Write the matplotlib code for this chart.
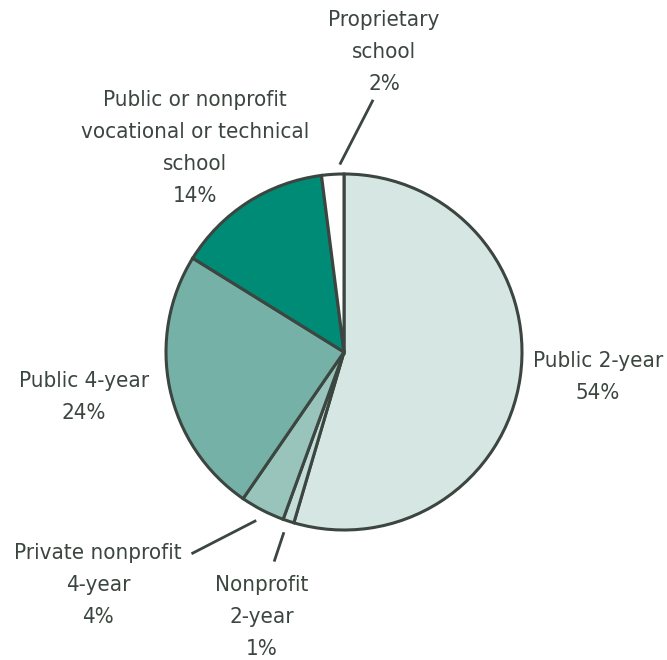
import numpy as np
import matplotlib.pyplot as plt

plt.rcParams['font.family'] = ['DejaVu Sans']
plt.rcParams['font.stretch'] = 'condensed'

labels = ['Public 2-year', 'Nonprofit\n2-year', 'Private nonprofit\n4-year', 'Public 4-year',
          'Public or nonprofit\nvocational or technical\nschool', 'Proprietary\nschool']
shares = [54, 1, 4, 24, 14, 2]
colors = ['#d6e7e3', '#c5ddd8', '#98c4bc', '#76b1a7', '#008b77', '#ffffff']

# last-line baseline of each label (x, y) in pie radius units, plus leader lines
label_pos = [(1.427, -0.264), (-0.461, -1.702), (-1.382, -1.522), (-1.461, -0.376),
             (-0.837, 0.843), (0.225, 1.472)]
leaders = [None, ((-0.39, -1.17), (-0.34, -1.02)), ((-0.85, -1.13), (-0.50, -0.95)), None, None,
           ((0.16, 1.41), (-0.02, 1.06))]

ink = '#3c4640'
fig = plt.figure(figsize=(6.67, 6.6), dpi=100)
r = 178
ax = fig.add_axes([(344 - r) / 667, (660 - 352 - r) / 660, 2 * r / 667, 2 * r / 660])
ax.pie(shares, colors=colors, startangle=90, counterclock=False,
       wedgeprops=dict(edgecolor=ink, linewidth=2.2))
ax.set_xlim(-1, 1)
ax.set_ylim(-1, 1)
ax.set_aspect('equal')

for lab, s, (x, y), ld in zip(labels, shares, label_pos, leaders):
    ax.text(x, y, f'{lab}\n{s}%', ha='center', va='baseline', fontsize=16, color=ink,
            linespacing=1.74, clip_on=False)
    if ld is not None:
        ax.plot([ld[0][0], ld[1][0]], [ld[0][1], ld[1][1]], color=ink, lw=2, clip_on=False)

fig.savefig('out.png', dpi=100)
